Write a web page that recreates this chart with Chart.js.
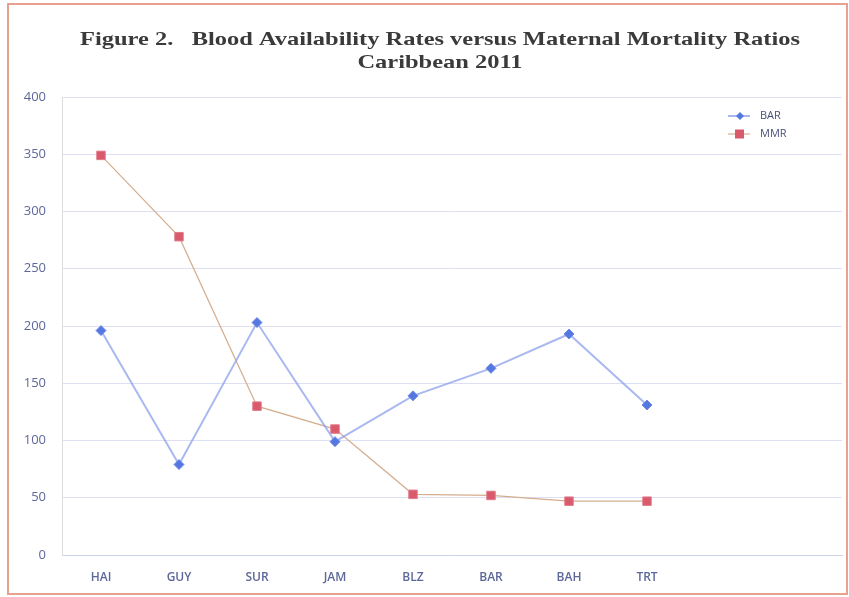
<!DOCTYPE html>
<html>
<head>
<meta charset="utf-8">
<script src="https://cdn.jsdelivr.net/npm/chart.js@4/dist/chart.umd.min.js"></script>
<style>
html,body{margin:0;padding:0;background:#fff;}
#wrap{width:849px;height:597px;position:relative;}
</style>
</head>
<body>
<div id="wrap"><canvas id="c" width="849" height="597"></canvas></div>
<script>
const categories = ['HAI','GUY','SUR','JAM','BLZ','BAR','BAH','TRT','',''];
const barValues = [196, 79, 203, 99, 139, 163, 193, 131, null, null];
const mmrValues = [349, 278, 130, 110, 53, 52, 47, 47, null, null];
const yTicks = [0, 50, 100, 150, 200, 250, 300, 350, 400];
const titleLines = ['Figure 2.   Blood Availability Rates versus Maternal Mortality Ratios', 'Caribbean 2011'];
const seriesNames = ['BAR', 'MMR'];

const frameTitlePlugin = {
  id: 'frameTitle',
  beforeDraw(chart) {
    const ctx = chart.ctx;
    ctx.save();
    ctx.fillStyle = '#ffffff';
    ctx.fillRect(0, 0, chart.width, chart.height);
    ctx.strokeStyle = '#e9a08e';
    ctx.lineWidth = 2;
    ctx.strokeRect(8, 4, 839, 590);
    ctx.restore();
  },
  afterDraw(chart) {
    const ctx = chart.ctx;
    ctx.save();
    ctx.font = 'bold 19px "Liberation Serif", "Times New Roman", serif';
    ctx.fillStyle = '#3a3a3a';
    ctx.textAlign = 'center';
    ctx.textBaseline = 'alphabetic';
    const w1 = ctx.measureText(titleLines[0]).width;
    const sx = 720 / w1;
    const cx = 440;
    [[titleLines[0], 45], [titleLines[1], 68]].forEach(([t, y]) => {
      ctx.save();
      ctx.translate(cx, y);
      ctx.scale(sx, 1);
      ctx.fillText(t, 0, 0);
      ctx.restore();
    });
    // legend
    const ds = chart.data.datasets;
    const items = [{y: 116}, {y: 134}];
    ctx.font = '11px "Open Sans", sans-serif';
    ctx.textAlign = 'left';
    ctx.textBaseline = 'middle';
    items.forEach((it, i) => {
      const d = ds[i];
      ctx.strokeStyle = d.borderColor;
      ctx.lineWidth = d.borderWidth;
      ctx.beginPath();
      ctx.moveTo(728, it.y);
      ctx.lineTo(750, it.y);
      ctx.stroke();
      ctx.fillStyle = d.pointBackgroundColor;
      if (i === 0) {
        ctx.beginPath();
        ctx.moveTo(740, it.y - 4);
        ctx.lineTo(744, it.y);
        ctx.lineTo(740, it.y + 4);
        ctx.lineTo(736, it.y);
        ctx.closePath();
        ctx.fill();
      } else {
        ctx.fillRect(735, it.y - 4.5, 9, 9);
      }
      ctx.fillStyle = '#4a4f7a';
      ctx.fillText(d.label, 760, it.y);
    });
    ctx.restore();
  }
};

new Chart(document.getElementById('c'), {
  type: 'line',
  data: {
    labels: categories,
    datasets: [
      {
        label: seriesNames[0],
        data: barValues,
        borderColor: 'rgba(140,160,235,0.75)',
        borderWidth: 2,
        pointStyle: 'rectRot',
        pointRadius: 5,
        pointBackgroundColor: '#5577e0',
        pointBorderColor: '#6f8ae6',
        pointBorderWidth: 1,
        tension: 0,
        spanGaps: false
      },
      {
        label: seriesNames[1],
        data: mmrValues,
        borderColor: '#d4ad8e',
        borderWidth: 1.2,
        pointStyle: 'rect',
        pointRadius: 6,
        pointBackgroundColor: '#d9596d',
        pointBorderColor: '#e07a88',
        pointBorderWidth: 1,
        tension: 0,
        spanGaps: false
      }
    ]
  },
  options: {
    responsive: false,
    animation: false,
    layout: { padding: { top: 97, left: 0, right: 4, bottom: 0 } },
    plugins: {
      legend: { display: false },
      title: { display: false },
      tooltip: { enabled: false }
    },
    scales: {
      x: {
        offset: true,
        grid: { display: false, drawTicks: false },
        border: { display: true, color: '#cdd2ea', width: 1 },
        ticks: {
          color: '#5d6799',
          font: { family: '"Open Sans", sans-serif', size: 12, weight: '600' },
          padding: 15,
          maxRotation: 0,
          autoSkip: false
        },
        afterFit(scale) { scale.height = 42; }
      },
      y: {
        min: 0,
        max: 400,
        afterBuildTicks(scale) { scale.ticks = yTicks.map(v => ({ value: v })); },
        grid: { color: '#dde0f2', lineWidth: 1, drawTicks: false },
        border: { display: true, color: '#dcdcdc', width: 1 },
        ticks: {
          color: '#5d6799',
          font: { family: '"Open Sans", sans-serif', size: 13 },
          padding: 16
        },
        afterFit(scale) { scale.width = 62; }
      }
    }
  },
  plugins: [frameTitlePlugin]
});
</script>
</body>
</html>
